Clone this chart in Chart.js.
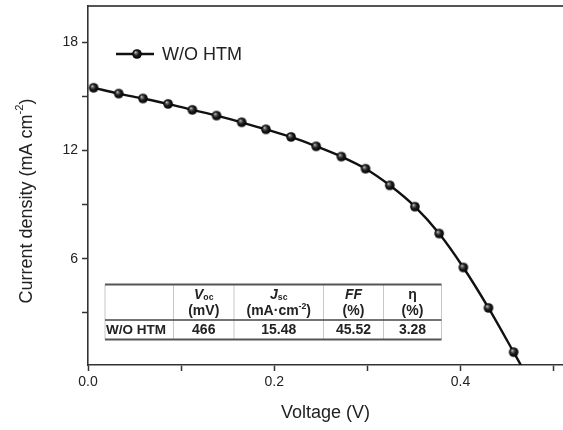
<!DOCTYPE html>
<html lang="en">
<head>
    <meta charset="UTF-8">
    <title>J-V curve W/O HTM</title>
    <script src="https://cdn.jsdelivr.net/npm/chart.js"></script>
    <style>
        body {
            margin: 0;
            padding: 0;
            background-color: #fff;
            font-family: "Liberation Sans", Arial, sans-serif;
        }
        .container {
            width: 563px;
            height: 430px;
        }
    </style>
</head>
<body>
<div class="container">
    <canvas id="graficaJV" width="563" height="430"></canvas>
</div>

<script>
    // Data
    const serieNombre = 'W/O HTM';
    const voltaje = [0.006, 0.033, 0.059, 0.086, 0.112, 0.138, 0.165, 0.191, 0.218, 0.245,
                     0.272, 0.298, 0.324, 0.351, 0.377, 0.403, 0.430, 0.457, 0.466];
    const corriente = [15.47, 15.15, 14.88, 14.58, 14.25, 13.93, 13.56, 13.17, 12.75, 12.23,
                       11.66, 10.99, 10.07, 8.89, 7.40, 5.52, 3.28, 0.83, 0];
    const ticksX = [0, 0.1, 0.2, 0.3, 0.4, 0.5];
    const etiquetasX = [0, 0.2, 0.4];
    const ticksY = [3, 6, 9, 12, 15, 18];
    const etiquetasY = [6, 12, 18];

    // Inset table
    const tablaFila = ['W/O HTM', '466', '15.48', '45.52', '3.28'];

    const colorTexto = '#222';
    const colorEje = '#333';

    // Sphere marker
    function crearEsfera(r) {
        const c = document.createElement('canvas');
        const s = Math.ceil(r * 2 + 2);
        c.width = s;
        c.height = s;
        const g = c.getContext('2d');
        const cx = s / 2, cy = s / 2;
        const grad = g.createRadialGradient(cx - r * 0.35, cy - r * 0.4, 0, cx, cy, r);
        grad.addColorStop(0, '#f0f0f0');
        grad.addColorStop(0.22, '#7a7a7a');
        grad.addColorStop(0.55, '#1e1e1e');
        grad.addColorStop(1, '#000');
        g.fillStyle = grad;
        g.beginPath();
        g.arc(cx, cy, r, 0, Math.PI * 2);
        g.fill();
        return c;
    }
    const esfera = crearEsfera(4.8);

    const puntos = voltaje.map((v, i) => ({ x: v, y: corriente[i] }));
    const ultimo = puntos.length - 1;

    // Texto con sub/superindices: partes [{t, sub, sup, italic}]
    function medirPartes(ctx, partes, tam, peso) {
        let w = 0;
        partes.forEach(p => {
            const s = (p.sub || p.sup) ? tam * 0.62 : tam;
            ctx.font = `${p.italic ? 'italic ' : ''}${peso} ${s}px "Liberation Sans", Arial`;
            w += ctx.measureText(p.t).width;
        });
        return w;
    }
    function dibujarPartes(ctx, partes, x, y, tam, peso) {
        partes.forEach(p => {
            const s = (p.sub || p.sup) ? tam * 0.62 : tam;
            ctx.font = `${p.italic ? 'italic ' : ''}${peso} ${s}px "Liberation Sans", Arial`;
            let dy = 0;
            if (p.sub) dy = tam * 0.22;
            if (p.sup) dy = -tam * 0.38;
            ctx.fillText(p.t, x, y + dy);
            x += ctx.measureText(p.t).width;
        });
    }
    function partesCentradas(ctx, partes, cx, y, tam, peso) {
        const w = medirPartes(ctx, partes, tam, peso);
        dibujarPartes(ctx, partes, cx - w / 2, y, tam, peso);
    }

    // Plugin: y title, legend and inset table
    const extras = {
        id: 'extras',
        afterDraw(chart) {
            const ctx = chart.ctx;
            ctx.save();
            ctx.fillStyle = colorTexto;
            ctx.textBaseline = 'middle';
            ctx.textAlign = 'left';

            // y axis title
            const tituloY = [{ t: 'Current density (mA cm' }, { t: '-2', sup: true }, { t: ')' }];
            ctx.save();
            ctx.translate(27, 201);
            ctx.rotate(-Math.PI / 2);
            partesCentradas(ctx, tituloY, 0, 0, 18, 'normal');
            ctx.restore();

            // legend
            ctx.strokeStyle = '#111';
            ctx.lineWidth = 2.4;
            ctx.beginPath();
            ctx.moveTo(116, 54);
            ctx.lineTo(154, 54);
            ctx.stroke();
            ctx.drawImage(esfera, 137 - esfera.width / 2, 54 - esfera.height / 2);
            ctx.font = '18px "Liberation Sans", Arial';
            ctx.fillText(serieNombre, 162, 55);

            // table
            const izq = 105, der = 441.5, arriba = 284.5, medio = 320, abajo = 339.5;
            const cols = [105, 173.5, 234, 323.5, 383.5, 441.5];
            ctx.fillStyle = '#fff';
            ctx.fillRect(izq, arriba, der - izq, abajo - arriba);
            ctx.strokeStyle = '#c8c8c8';
            ctx.lineWidth = 1;
            cols.forEach(cx => {
                ctx.beginPath();
                ctx.moveTo(cx, arriba);
                ctx.lineTo(cx, abajo);
                ctx.stroke();
            });
            ctx.strokeStyle = '#555';
            ctx.lineWidth = 2;
            [arriba, abajo].forEach(yy => {
                ctx.beginPath();
                ctx.moveTo(izq, yy);
                ctx.lineTo(der, yy);
                ctx.stroke();
            });
            ctx.lineWidth = 1.5;
            ctx.strokeStyle = '#444';
            ctx.beginPath();
            ctx.moveTo(izq, medio);
            ctx.lineTo(der, medio);
            ctx.stroke();

            ctx.fillStyle = colorTexto;
            const centros = [];
            for (let i = 1; i < cols.length - 1; i++) centros.push((cols[i] + cols[i + 1]) / 2);
            const enc1 = [
                [{ t: 'V', italic: true }, { t: 'oc', sub: true }],
                [{ t: 'J', italic: true }, { t: 'sc', sub: true }],
                [{ t: 'FF', italic: true }],
                [{ t: 'η' }]
            ];
            const enc2 = [
                [{ t: '(mV)' }],
                [{ t: '(mA·cm' }, { t: '-2', sup: true }, { t: ')' }],
                [{ t: '(%)' }],
                [{ t: '(%)' }]
            ];
            centros.forEach((cx, i) => {
                partesCentradas(ctx, enc1[i], cx, 295, 14, 'bold');
                partesCentradas(ctx, enc2[i], cx, 311.5, 14, 'bold');
            });
            ctx.font = 'bold 13.5px "Liberation Sans", Arial';
            ctx.textAlign = 'left';
            ctx.fillText(tablaFila[0], 106, 330.5);
            ctx.textAlign = 'center';
            ctx.font = 'bold 14px "Liberation Sans", Arial';
            centros.forEach((cx, i) => ctx.fillText(tablaFila[i + 1], cx, 330.5));
            ctx.restore();
        }
    };

    const ctx = document.getElementById('graficaJV').getContext('2d');
    const graficaJV = new Chart(ctx, {
        type: 'line',
        data: {
            datasets: [{
                label: serieNombre,
                data: puntos,
                borderColor: '#111',
                borderWidth: 2.4,
                pointStyle: esfera,
                pointRadius: c => c.dataIndex === ultimo ? 0 : 4.8,
                pointHoverRadius: 0,
                cubicInterpolationMode: 'monotone',
                fill: false
            }]
        },
        options: {
            responsive: false,
            animation: false,
            events: [],
            layout: { padding: 0, autoPadding: false },
            plugins: {
                legend: { display: false },
                tooltip: { enabled: false }
            },
            scales: {
                x: {
                    type: 'linear',
                    position: 'bottom',
                    min: 0,
                    max: 0.51,
                    afterBuildTicks: s => { s.ticks = ticksX.map(v => ({ value: v })); },
                    afterFit: s => { s.height = 65; s.paddingLeft = 0; s.paddingRight = 0; },
                    border: { color: colorEje, width: 1.6 },
                    grid: { display: true, drawOnChartArea: false, tickLength: 6, tickColor: colorEje, tickWidth: 1.5 },
                    ticks: {
                        color: colorTexto,
                        font: { size: 14, family: '"Liberation Sans", Arial' },
                        padding: 3,
                        maxRotation: 0,
                        autoSkip: false,
                        callback: v => etiquetasX.some(e => Math.abs(e - v) < 1e-6) ? v.toFixed(1) : ''
                    },
                    title: {
                        display: true,
                        text: 'Voltage (V)',
                        color: colorTexto,
                        font: { size: 18, family: '"Liberation Sans", Arial' },
                        padding: { top: 0, bottom: 6 }
                    }
                },
                xTop: {
                    type: 'linear',
                    position: 'top',
                    min: 0,
                    max: 0.51,
                    afterFit: s => { s.height = 6; s.paddingLeft = 0; s.paddingRight = 0; },
                    border: { color: '#555', width: 2 },
                    grid: { display: false },
                    ticks: { display: false }
                },
                y: {
                    type: 'linear',
                    min: 0.12,
                    max: 20,
                    afterBuildTicks: s => { s.ticks = ticksY.map(v => ({ value: v })); },
                    afterFit: s => { s.width = 88; s.paddingTop = 0; s.paddingBottom = 0; },
                    border: { color: colorEje, width: 1.6 },
                    grid: { display: true, drawOnChartArea: false, tickLength: 6, tickColor: colorEje, tickWidth: 1.5 },
                    ticks: {
                        color: colorTexto,
                        font: { size: 14, family: '"Liberation Sans", Arial' },
                        padding: 4,
                        autoSkip: false,
                        callback: v => etiquetasY.includes(v) ? String(v) : ''
                    }
                }
            }
        },
        plugins: [extras]
    });
</script>
</body>
</html>
